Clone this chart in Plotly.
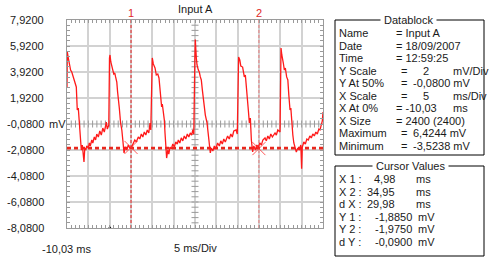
import plotly.graph_objects as go

# ---------------- data ----------------
time_ms = [-10.03, -9.96, -9.73, -9.49, -9.19, -8.91, -8.67, -8.39, -8.08, -7.85, -7.62, -7.38, -7.15, -6.84, -6.68,
           -6.44, -6.21, -6.05, -5.86, -5.62, -5.39, -5.04, -4.80, -4.57, -4.22, -3.98, -3.63, -3.33, -3.05, -2.69,
           -2.34, -1.99, -1.64, -1.29, -0.98, -0.82, -0.58, -0.23, -0.07, 0.05,
           0.24, 0.47, 0.71, 0.94, 1.17, 1.36, 1.64, 1.83, 1.99, 2.23, 2.53, 2.82, 3.05, 3.33, 3.64, 3.99, 4.34, 4.69,
           5.11, 5.51, 5.86, 6.21, 6.68, 7.03, 7.39, 7.74, 8.09, 8.44, 8.79, 9.14, 9.43, 9.61, 9.85, 9.96,
           10.20, 10.60, 10.90, 11.25, 11.53, 11.84, 12.15, 12.31, 12.54, 12.78, 12.94, 13.13, 13.32, 13.60, 13.83,
           14.11, 14.42, 14.77, 15.12, 15.47, 15.82, 16.06, 16.41, 16.76, 17.11, 17.46, 17.82, 18.17, 18.52, 18.87,
           19.18, 19.46, 19.69, 19.93, 20.04,
           20.28, 20.44, 20.75, 20.98, 21.22, 21.45, 21.69, 21.85, 22.15, 22.39, 22.79, 23.09, 23.33, 23.56, 23.80,
           24.15, 24.50, 24.85, 25.27, 25.67, 26.02, 26.37, 26.72, 27.07, 27.61, 28.00, 28.36, 28.71, 29.06, 29.58,
           29.88, 30.07, 30.19,
           30.47, 30.71, 31.13, 31.30, 31.53, 31.77, 32.00, 32.30, 32.47, 32.71, 32.94, 33.18, 33.48, 33.76, 34.11,
           34.46, 34.81, 35.17, 35.52, 35.87, 36.38, 36.69, 37.04, 37.39, 37.74, 38.10, 38.73, 39.03, 39.38, 39.90,
           40.04, 40.13,
           40.32, 40.51, 40.67, 40.91, 41.14, 41.45, 41.73, 41.96, 42.24, 42.43, 42.62, 42.90, 43.13, 43.41, 43.72,
           44.07, 44.42, 44.77, 44.96, 45.12, 45.48, 45.83, 46.18, 46.53, 46.88, 47.23, 47.58, 47.94, 48.29, 48.64,
           48.99, 49.27, 49.58, 49.81, 49.97]
voltage_mV = [2.77, 5.46, 5.00, 4.61, 4.07, 3.92, 3.61, 3.46, 3.00, 2.77, 1.00, 1.15, 0.07, -1.31, -2.08,
              -1.70, -2.23, -3.00, -1.93, -2.08, -1.77, -1.93, -1.54, -1.77, -1.31, -1.54, -1.08, -1.31, -0.85, -1.08,
              -0.62, -0.93, -0.39, -0.70, -0.23, 0.07, -0.47, -0.16, 5.00, 5.23,
              4.69, 4.23, 4.07, 3.77, 3.84, 3.54, 3.15, 2.38, 1.53, 1.15, 0.00, -0.54, -1.31, -2.31, -1.85, -2.08, -1.70, -1.93,
              -1.85, -1.62, -1.31, -1.46, -1.08, -1.23, -0.85, -1.08, -0.70, -0.93, -0.54, -0.77, 0.00, -0.54, 4.69, 5.00,
              4.54, 4.23, 3.69, 3.77, 3.46, 2.38, 1.23, 1.46, 0.84, 0.23, -0.77, -1.70, -2.70, -2.08, -2.39,
              -1.85, -2.00, -1.62, -1.85, -1.46, -1.62, -1.31, -1.54, -1.15, -1.38, -1.00, -1.23, -0.85, -1.08, -0.77,
              -0.93, -0.54, -0.85, 4.84, 6.42,
              5.00, 4.46, 4.07, 3.92, 3.54, 3.31, 2.54, 2.00, 1.00, 0.61, 0.00, -0.93, -1.70, -2.31, -1.93,
              -2.16, -1.77, -2.00, -1.54, -1.77, -1.38, -1.62, -1.23, -1.46, -1.00, -1.23, -0.85, -1.08, -0.62, -0.54,
              -0.85, 4.69, 5.08,
              4.84, 4.38, 4.30, 3.92, 3.54, 3.69, 2.54, 1.23, 1.00, 0.00, 0.38, -1.31, -2.23, -1.77, -2.08,
              -1.70, -1.85, -1.54, -1.70, -1.31, -1.15, -1.38, -1.00, -1.23, -0.85, -1.08, -0.77, -0.93, -0.54, -0.70,
              5.23, 5.77,
              5.23, 4.69, 4.61, 4.07, 4.23, 3.54, 3.31, 2.15, 1.00, 1.15, 0.00, -0.93, -1.54, -1.85, -2.23,
              -1.93, -2.08, -1.70, -3.52, -1.85, -1.46, -1.62, -1.23, -1.31, -1.00, -1.15, -0.85, -1.00, -0.70, -0.85,
              -0.47, -0.54, -0.23, 0.15, 0.84]

# axis settings
x_start_ms = -10.03
x_per_div = 5
x_divs = 12
y_center_mV = -0.08
y_per_div = 2
y_divs = 8
trigger_ms = 0.0

y_tick_values = [7.92, 5.92, 3.92, 1.92, -0.08, -2.08, -4.08, -6.08, -8.08]
y_tick_labels = ["7,9200", "5,9200", "3,9200", "1,9200", "-0,0800", "-2,0800", "-4,0800", "-6,0800", "-8,0800"]

cursor_names = ["1", "2"]
cursor_x_ms = [4.98, 34.95]
cursor_y_mV = [-1.885, -1.975]
cursor_colors = ["#e23a3a", "#e58a8a"]

datablock_rows = [
    ("Name", ["= Input A"]),
    ("Date", ["= 18/09/2007"]),
    ("Time", ["= 12:59:25"]),
    ("Y Scale", ["=", "2", "mV/Div"]),
    ("Y At 50%", ["=", "-0,0800 mV"]),
    ("X Scale", ["=", "5", "ms/Div"]),
    ("X At 0%", ["= -10,03", "", "ms"]),
    ("X Size", ["= 2400 (2400)"]),
    ("Maximum", ["=", "6,4244 mV"]),
    ("Minimum", ["=", "-3,5238 mV"]),
]
cursor_rows = [
    ("X 1 :", "4,98", "ms"),
    ("X 2 :", "34,95", "ms"),
    ("d X :", "29,98", "ms"),
    ("Y 1 :", "-1,8850", "mV"),
    ("Y 2 :", "-1,9750", "mV"),
    ("d Y :", "-0,0900", "mV"),
]

# ---------------- layout geometry (pixels) ----------------
W, H = 489, 259
L, R, T, B = 67, 323, 20, 228
FONT = "Liberation Sans, Arial, sans-serif"
TXT = "#1a1a1a"

x_end_ms = x_start_ms + x_per_div * x_divs
y_top = y_center_mV + y_per_div * y_divs / 2
y_bot = y_center_mV - y_per_div * y_divs / 2
x_center_ms = x_start_ms + x_per_div * x_divs / 2


def px(xp):
    return (xp - L) / (R - L)


def py(yp):
    return 1 - (yp - T) / (B - T)


fig = go.Figure()

# tick marks along centre cross
minor_x = [x_start_ms + i * x_per_div / 5 for i in range(1, x_divs * 5)]
minor_y = [y_bot + i * y_per_div / 5 for i in range(1, y_divs * 5)]
fig.add_trace(go.Scatter(x=minor_x, y=[y_center_mV] * len(minor_x), mode="markers",
                         marker=dict(symbol="line-ns", size=5, line=dict(color="#9a9a9a", width=1)),
                         hoverinfo="skip", showlegend=False))
fig.add_trace(go.Scatter(x=[x_center_ms] * len(minor_y), y=minor_y, mode="markers",
                         marker=dict(symbol="line-ew", size=5, line=dict(color="#9a9a9a", width=1)),
                         hoverinfo="skip", showlegend=False))

# cursor lines
for cx, col in zip(cursor_x_ms, cursor_colors):
    fig.add_trace(go.Scatter(x=[cx, cx], y=[y_bot, y_top], mode="lines",
                             line=dict(color=col, width=1.2, dash="3px,2px"),
                             hoverinfo="skip", showlegend=False))
for cy in cursor_y_mV:
    fig.add_trace(go.Scatter(x=[x_start_ms, x_end_ms], y=[cy, cy], mode="lines",
                             line=dict(color="#e8281e", width=1.5, dash="4px,3px"),
                             hoverinfo="skip", showlegend=False))

# waveform
fig.add_trace(go.Scatter(x=time_ms, y=voltage_mV, mode="lines",
                         line=dict(color="#ff1a1a", width=1.3),
                         hoverinfo="skip", showlegend=False))

# cursor crosses
fig.add_trace(go.Scatter(x=cursor_x_ms, y=cursor_y_mV, mode="markers",
                         marker=dict(symbol="x-thin", size=13, line=dict(color="#ff3030", width=0.8)),
                         hoverinfo="skip", showlegend=False))

# trigger marker
fig.add_trace(go.Scatter(x=[trigger_ms], y=[y_bot], mode="markers", cliponaxis=False,
                         marker=dict(symbol="triangle-up", size=4, color="#000"),
                         hoverinfo="skip", showlegend=False))

fig.update_xaxes(range=[x_start_ms, x_end_ms], tick0=x_start_ms, dtick=x_per_div,
                 showgrid=True, gridcolor="#d2d2d2", gridwidth=2,
                 ticks="inside", ticklen=3, tickcolor="#9a9a9a", showticklabels=False,
                 minor=dict(dtick=x_per_div / 5, tick0=x_start_ms, ticks="inside", ticklen=3,
                            tickcolor="#9a9a9a", showgrid=False),
                 showline=True, linecolor="#9a9a9a", linewidth=1, mirror="allticks",
                 zeroline=False, fixedrange=True)
fig.update_yaxes(range=[y_bot, y_top], tick0=y_center_mV, dtick=y_per_div,
                 showgrid=True, gridcolor="#d2d2d2", gridwidth=2,
                 ticks="inside", ticklen=3, tickcolor="#9a9a9a", showticklabels=False,
                 minor=dict(dtick=y_per_div / 5, tick0=y_center_mV, ticks="inside", ticklen=3,
                            tickcolor="#9a9a9a", showgrid=False),
                 showline=True, linecolor="#9a9a9a", linewidth=1, mirror="allticks",
                 zeroline=False, fixedrange=True)

ann = []
font = dict(family=FONT, size=11, color=TXT)

# y tick labels
for v, lab in zip(y_tick_values, y_tick_labels):
    ann.append(dict(xref="paper", yref="y", x=px(46), y=v, text=lab, showarrow=False,
                    xanchor="right", yanchor="middle", font=font))
ann.append(dict(xref="paper", yref="y", x=px(47), y=y_center_mV, text="mV", showarrow=False,
                xanchor="left", yanchor="middle", font=font))

# title, axis captions
ann.append(dict(xref="paper", yref="paper", x=px(195), y=py(9), text="Input A", showarrow=False,
                xanchor="center", yanchor="middle", font=font))
ann.append(dict(xref="paper", yref="paper", x=px(66), y=py(249), text="-10,03 ms", showarrow=False,
                xanchor="center", yanchor="middle", font=font))
ann.append(dict(xref="paper", yref="paper", x=px(195), y=py(248), text="5 ms/Div", showarrow=False,
                xanchor="center", yanchor="middle", font=font))

# cursor labels
for name, cx, col in zip(cursor_names, cursor_x_ms, cursor_colors):
    ann.append(dict(xref="x", yref="paper", x=cx, y=py(13), text=name, showarrow=False,
                    xanchor="center", yanchor="middle",
                    font=dict(family=FONT, size=11, color="#e02828")))

# ---- right panel ----
BOX_L, BOX_R = 335, 484
DB_TOP, DB_BOT = 20, 155
CV_TOP, CV_BOT = 166, 256
shapes = [
    dict(type="rect", xref="paper", yref="paper", x0=px(BOX_L), x1=px(BOX_R), y0=py(DB_BOT), y1=py(DB_TOP),
         line=dict(color="#000", width=1)),
    dict(type="rect", xref="paper", yref="paper", x0=px(BOX_L), x1=px(BOX_R), y0=py(CV_BOT), y1=py(CV_TOP),
         line=dict(color="#000", width=1)),
]
ann.append(dict(xref="paper", yref="paper", x=px(408), y=py(DB_TOP), text=" Datablock ", showarrow=False,
                xanchor="center", yanchor="middle", bgcolor="#ffffff", borderpad=0, font=font))
ann.append(dict(xref="paper", yref="paper", x=px(410), y=py(CV_TOP), text=" Cursor Values ", showarrow=False,
                xanchor="center", yanchor="middle", bgcolor="#ffffff", borderpad=0, font=font))

row0, dy = 33, 12.55
for i, (lab, parts) in enumerate(datablock_rows):
    yy = py(row0 + i * dy)
    ann.append(dict(xref="paper", yref="paper", x=px(337), y=yy, text=lab, showarrow=False,
                    xanchor="left", yanchor="middle", font=font))
    if len(parts) == 1:
        ann.append(dict(xref="paper", yref="paper", x=px(394), y=yy, text=parts[0], showarrow=False,
                        xanchor="left", yanchor="middle", font=font))
    elif len(parts) == 2:
        ann.append(dict(xref="paper", yref="paper", x=px(399), y=yy, text=parts[0], showarrow=False,
                        xanchor="left", yanchor="middle", font=font))
        ann.append(dict(xref="paper", yref="paper", x=px(411), y=yy, text=parts[1], showarrow=False,
                        xanchor="left", yanchor="middle", font=font))
    else:
        first_x = 399 if parts[0] == "=" else 394
        ann.append(dict(xref="paper", yref="paper", x=px(first_x), y=yy, text=parts[0], showarrow=False,
                        xanchor="left", yanchor="middle", font=font))
        if parts[1]:
            ann.append(dict(xref="paper", yref="paper", x=px(426), y=yy, text=parts[1], showarrow=False,
                            xanchor="center", yanchor="middle", font=font))
        ann.append(dict(xref="paper", yref="paper", x=px(451), y=yy, text=parts[2], showarrow=False,
                        xanchor="left", yanchor="middle", font=font))

crow0, cdy = 179, 12.6
for i, (lab, val, unit) in enumerate(cursor_rows):
    yy = py(crow0 + i * cdy)
    ann.append(dict(xref="paper", yref="paper", x=px(337), y=yy, text=lab, showarrow=False,
                    xanchor="left", yanchor="middle", font=font))
    if unit == "ms":
        ann.append(dict(xref="paper", yref="paper", x=px(397), y=yy, text=val, showarrow=False,
                        xanchor="right", yanchor="middle", font=font))
        ann.append(dict(xref="paper", yref="paper", x=px(414), y=yy, text=unit, showarrow=False,
                        xanchor="left", yanchor="middle", font=font))
    else:
        ann.append(dict(xref="paper", yref="paper", x=px(414), y=yy, text=val, showarrow=False,
                        xanchor="right", yanchor="middle", font=font))
        ann.append(dict(xref="paper", yref="paper", x=px(416), y=yy, text=unit, showarrow=False,
                        xanchor="left", yanchor="middle", font=font))

fig.update_layout(width=W, height=H, margin=dict(l=L, r=W - R, t=T, b=H - B, pad=0),
                  paper_bgcolor="#ffffff", plot_bgcolor="#ffffff",
                  annotations=ann, shapes=shapes, showlegend=False,
                  font=dict(family=FONT, size=11, color=TXT))

fig.write_html("out.html", config={"displayModeBar": False})
